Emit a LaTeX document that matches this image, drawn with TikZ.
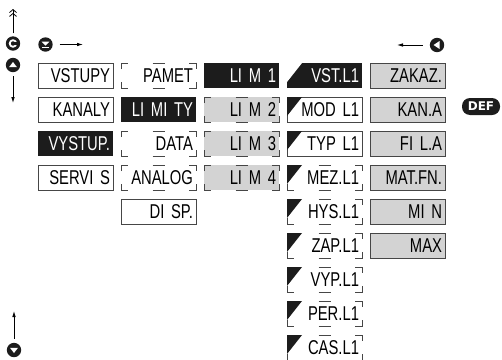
\documentclass[tikz,border=0pt]{standalone}
\usepackage{fontspec}
\usetikzlibrary{arrows.meta}
\newfontfamily\boxfont{Liberation Sans}[FakeStretch=0.74]
\newfontfamily\keyfont{DejaVu Sans}
\definecolor{KeyBlack}{RGB}{28, 28, 28}
\definecolor{KeyGray}{RGB}{211, 211, 211}
\definecolor{EdgeGray}{RGB}{70, 70, 70}

\begin{document}
\begin{tikzpicture}[x=1pt, y=-1pt,
    box/.style={rectangle, minimum width=75pt, minimum height=25pt, text width=69pt,
      align=right, inner xsep=3pt, inner ysep=0pt, outer sep=0pt,
      font=\boxfont\fontsize{20}{20}\selectfont},
    plainbox/.style={box, fill=white, draw=EdgeGray, line width=0.8pt},
    darkbox/.style={box, fill=KeyBlack, text=white},
    greybox/.style={box, fill=KeyGray, draw=EdgeGray, line width=0.8pt},
    openbox/.style={box},
    shadebox/.style={box, fill=KeyGray},
    cornerline/.style={draw=EdgeGray, line width=0.8pt},
    keydisk/.style={circle, fill=KeyBlack, minimum size=14.4pt, inner sep=0pt, outer sep=0pt},
    enterkey/.style={keydisk, path picture={
      \draw[white, line width=1.8pt] (path picture bounding box.center) circle (3.3pt);
      \fill[KeyBlack] ([xshift=1pt, yshift=-1.4pt]path picture bounding box.center)
        rectangle ([xshift=6pt, yshift=1.4pt]path picture bounding box.center);}},
    menukey/.style={keydisk, path picture={
      \fill[white] ([xshift=-3.8pt, yshift=2.8pt]path picture bounding box.center)
        -- ([xshift=3.8pt, yshift=2.8pt]path picture bounding box.center)
        -- ([yshift=-1.2pt]path picture bounding box.center) -- cycle;
      \fill[white] ([xshift=-3.8pt, yshift=-2pt]path picture bounding box.center)
        rectangle ([xshift=3.8pt, yshift=-3.4pt]path picture bounding box.center);}},
    upkey/.style={keydisk, path picture={
      \fill[white] ([xshift=-4pt, yshift=-2.2pt]path picture bounding box.center)
        -- ([xshift=4pt, yshift=-2.2pt]path picture bounding box.center)
        -- ([yshift=3pt]path picture bounding box.center) -- cycle;}},
    downkey/.style={keydisk, path picture={
      \fill[white] ([xshift=-4pt, yshift=2.2pt]path picture bounding box.center)
        -- ([xshift=4pt, yshift=2.2pt]path picture bounding box.center)
        -- ([yshift=-3pt]path picture bounding box.center) -- cycle;}},
    leftkey/.style={keydisk, path picture={
      \fill[white] ([xshift=-3.4pt]path picture bounding box.center)
        -- ([xshift=2.6pt, yshift=4pt]path picture bounding box.center)
        -- ([xshift=2.6pt, yshift=-4pt]path picture bounding box.center) -- cycle;}},
    defbadge/.style={rectangle, rounded corners=8pt, fill=KeyBlack, text=white,
      minimum width=38pt, minimum height=17pt, inner sep=0pt,
      font=\keyfont\bfseries\fontsize{12}{12}\selectfont},
    arr/.style={-{Latex[length=6pt, width=3.6pt]}, line width=0.8pt},
    dblarr/.style={-{Straight Barb[length=3pt, width=7pt]Straight Barb[length=3pt, width=7pt]}, line width=0.8pt}]
    \useasboundingbox (0,0) rectangle (502,359);

    % Keys
    \node[enterkey] (enter) at (13,43.5) {};
    \node[menukey] (menu) at (45.5,44.5) {};
    \node[upkey] (up) at (13,65) {};
    \node[downkey] (down) at (14,350) {};
    \node[leftkey] (left) at (437,45) {};
    \node[defbadge] (def) at (481,106.5) {DEF};
    \coordinate (toptip) at (13,9);
    \coordinate (menutip) at (83,44.5);
    \coordinate (uptip) at (13,103);
    \coordinate (downtip) at (14,311);
    \coordinate (lefttip) at (397,45);
    \draw[dblarr, shorten <=3pt] (enter) -- (toptip);
    \draw[arr, shorten <=7pt] (menu) -- (menutip);
    \draw[arr, shorten <=4pt] (up) -- (uptip);
    \draw[arr, shorten <=4pt] (down) -- (downtip);
    \draw[arr, shorten <=7pt] (left) -- (lefttip);

    % Column 1
    \node[plainbox] (vstupy) at (75.5,75.5) {VSTUPY};
    \node[plainbox] (kanaly) at (75.5,109.5) {KANALY};
    \node[darkbox] (vystup) at (75.5,143.5) {VYSTUP.};
    \node[plainbox] (servis) at (75.5,177.5) {SERVI S};

    % Column 2
    \node[openbox] (pamet) at (158.5,75.5) {PAMET};
    \node[darkbox] (limity) at (158.5,109.5) {LI MI TY};
    \node[openbox] (data) at (158.5,143.5) {DATA};
    \node[openbox] (analog) at (158.5,177.5) {ANALOG};
    \node[plainbox] (disp) at (158.5,211.5) {DI SP.};

    % Column 3
    \node[darkbox] (lim1) at (241.5,75.5) {LI M 1};
    \node[shadebox] (lim2) at (241.5,109.5) {LI M 2};
    \node[shadebox] (lim3) at (241.5,143.5) {LI M 3};
    \node[shadebox] (lim4) at (241.5,177.5) {LI M 4};

    % Column 4
    \node[darkbox] (vst) at (324.5,75.5) {VST.L1};
    \node[plainbox] (mod) at (324.5,109.5) {MOD L1};
    \node[plainbox] (typ) at (324.5,143.5) {TYP L1};
    \node[openbox] (mez) at (324.5,177.5) {MEZ.L1};
    \node[openbox] (hys) at (324.5,211.5) {HYS.L1};
    \node[openbox] (zap) at (324.5,245.5) {ZAP.L1};
    \node[openbox] (vyp) at (324.5,279.5) {VYP.L1};
    \node[openbox] (per) at (324.5,313.5) {PER.L1};
    \node[openbox] (cas) at (324.5,347.5) {CAS.L1};

    % Column 5
    \node[greybox] (zakaz) at (407.5,75.5) {ZAKAZ.};
    \node[greybox] (kana) at (407.5,109.5) {KAN.A};
    \node[greybox] (fila) at (407.5,143.5) {FI L.A};
    \node[greybox] (matfn) at (407.5,177.5) {MAT.FN.};
    \node[greybox] (min) at (407.5,211.5) {MI N};
    \node[greybox] (max) at (407.5,245.5) {MAX};

    % Open corners
    \foreach \n in {pamet, data, analog, lim2, lim3, lim4, mez, hys, zap, vyp, per, cas} {
      \draw[cornerline] ([yshift=-6pt]\n.north west) -- (\n.north west) -- ([xshift=7pt]\n.north west);
      \draw[cornerline] ([xshift=-7pt]\n.north east) -- (\n.north east) -- ([yshift=-6pt]\n.north east);
      \draw[cornerline] ([yshift=6pt]\n.south west) -- (\n.south west) -- ([xshift=7pt]\n.south west);
      \draw[cornerline] ([xshift=-7pt]\n.south east) -- (\n.south east) -- ([yshift=6pt]\n.south east);
      \draw[cornerline] ([xshift=-6pt]\n.north) -- ([xshift=6pt]\n.north);
      \draw[cornerline] ([xshift=-6pt]\n.south) -- ([xshift=6pt]\n.south);
    }

    % Level marks
    \fill[white] (vst.north west) -- ([xshift=15pt]vst.north west) -- ([yshift=-19pt]vst.north west) -- cycle;
    \foreach \n in {mod, typ, mez, hys, zap, vyp, per, cas}
      \fill[KeyBlack] (\n.north west) -- ([xshift=15pt]\n.north west) -- ([yshift=-19pt]\n.north west) -- cycle;
  \end{tikzpicture}
\end{document}
